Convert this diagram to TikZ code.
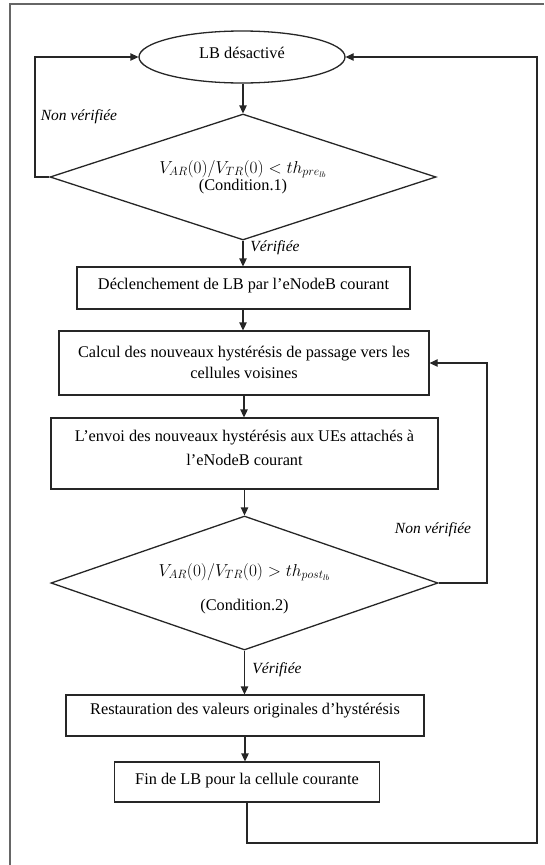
\documentclass[tikz,border=0pt]{standalone}
\usepackage{fontspec}
\setmainfont{Liberation Serif}
\usetikzlibrary{shapes.geometric,arrows.meta}
\begin{document}
\begin{tikzpicture}[x=1pt,y=-1pt,
  ln/.style={draw=black!85, line width=1.3pt},
  arr/.style={ln, -{Triangle[length=8pt,width=7.5pt]}},
  boxnode/.style={draw=black!85, line width=1.3pt, rectangle, inner sep=0pt},
  txt/.style={font=\fontsize{16.3}{19}\selectfont, inner sep=0pt, align=center},
  lbl/.style={font=\fontsize{15.5}{18}\selectfont\itshape, inner sep=0pt},
  mth/.style={font=\fontsize{16.5}{19}\selectfont, inner sep=0pt},
]
\useasboundingbox (0,0) rectangle (544,865);
\draw[black!60, line width=1.2pt] (10,865) -- (10,4) -- (544,4);

% shapes
\node[ellipse, draw=black!85, line width=1.3pt, minimum width=206pt, minimum height=52pt, inner sep=0pt] (start) at (242,57) {};
\node[txt] (starttxt) at (242,53) {LB désactivé};

\node[diamond, draw=black!85, line width=1.3pt, minimum width=386pt, minimum height=126pt, inner sep=0pt] (d1) at (243,177) {};
\node[mth] (d1m) at (243,169) {$V_{AR}(0)/V_{TR}(0) < th_{pre_{lb}}$};
\node[txt] (d1c) at (243,187) {(Condition.1)};

\node[boxnode, minimum width=333pt, minimum height=42pt] (b1) at (243.5,288) {};
\node[txt] (b1t) at (243.5,286) {Déclenchement de LB par l'eNodeB courant};

\node[boxnode, minimum width=370pt, minimum height=64pt] (b2) at (244,363) {};
\node[txt] (b2t1) at (244,354) {Calcul des nouveaux hystérésis de passage vers les};
\node[txt] (b2t2) at (244,373) {cellules voisines};

\node[boxnode, minimum width=387pt, minimum height=71pt] (b3) at (244.5,453.5) {};
\node[txt] (b3t1) at (244.5,438) {L'envoi des nouveaux hystérésis aux UEs attachés à};
\node[txt] (b3t2) at (244.5,460) {l'eNodeB courant};

\node[diamond, draw=black!85, line width=1.3pt, minimum width=387pt, minimum height=134pt, inner sep=0pt] (d2) at (244.5,583) {};
\node[mth] (d2m) at (244.5,572) {$V_{AR}(0)/V_{TR}(0) > th_{post_{lb}}$};
\node[txt] (d2c) at (244.5,607) {(Condition.2)};

\node[boxnode, minimum width=358pt, minimum height=41pt] (b4) at (245,715.5) {};
\node[txt] (b4t) at (245,711) {Restauration des valeurs originales d'hystérésis};

\node[boxnode, minimum width=265pt, minimum height=40pt] (b5) at (247,782) {};
\node[txt] (b5t) at (247,781) {Fin de LB pour la cellule courante};

% labels
\node[lbl] (nv1) at (79,117) {Non vérifiée};
\node[lbl] (v1) at (275,248) {Vérifiée};
\node[lbl] (nv2) at (433,530) {Non vérifiée};
\node[lbl] (v2) at (277,670) {Vérifiée};

% coordinates
\coordinate (cl) at (35,177);
\coordinate (cr) at (487,583);
\coordinate (cb) at (537,843);
\coordinate (ct) at (537,57);

% connectors
\draw[arr] (start.south -| d1.north) -- (d1.north);
\draw[arr] (d1.west) -- (cl) |- (start.west);
\draw[arr] (d1.south) -- (d1.south |- b1.north);
\draw[arr] (b1.south -| d1.south) -- (d1.south |- b2.north);
\draw[arr] (b2.south) -- (b2.south |- b3.north);
\draw[arr] (b3.south) -- (b3.south |- d2.north);
\draw[arr] (d2.east) -- (cr) |- (b2.east);
\draw[arr] (d2.south) -- (d2.south |- b4.north);
\draw[arr] (b4.south) -- (b4.south |- b5.north);
\draw[arr] (b5.south) |- (cb) -- (ct) -- (start.east);
\end{tikzpicture}
\end{document}
